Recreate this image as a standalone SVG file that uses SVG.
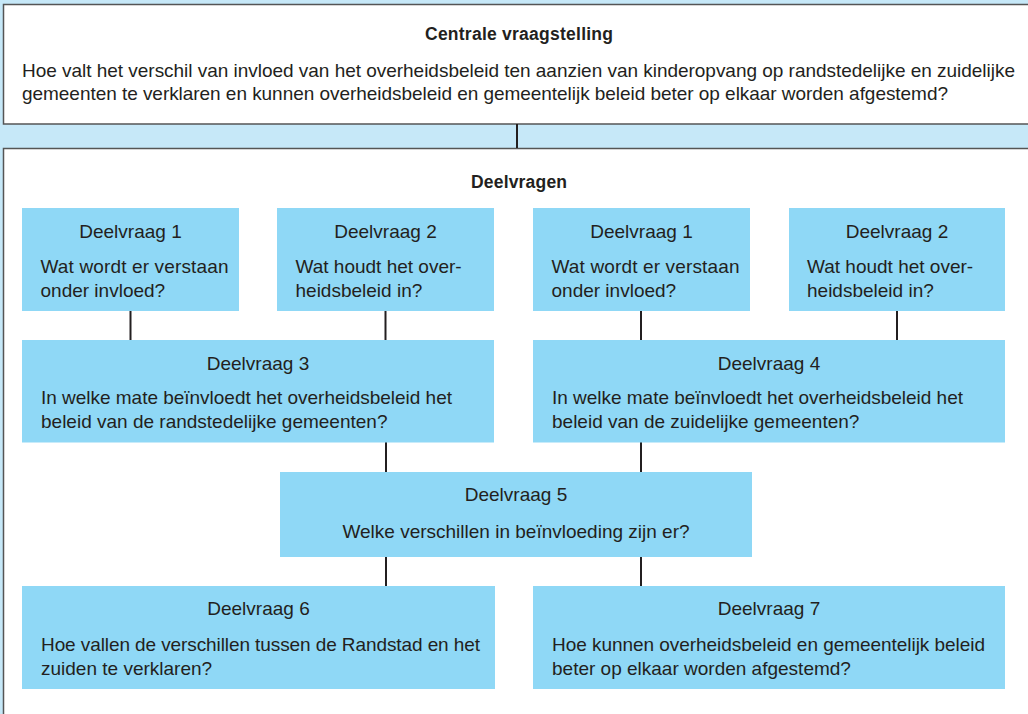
<svg xmlns="http://www.w3.org/2000/svg" width="1028" height="714" viewBox="0 0 1028 714">
<style>
.frame{fill:#ffffff;stroke:#555555;stroke-width:1.5}
.node{fill:#8fd8f6}
.t{font-family:"Liberation Sans",Arial,sans-serif;font-size:19px;fill:#231f20}
.c{text-anchor:middle}
.b{font-family:"Liberation Sans",Arial,sans-serif;font-size:17.5px;font-weight:bold;fill:#231f20;text-anchor:middle}
.conn line{stroke:#231f20;stroke-width:2}
</style>
<rect x="0" y="0" width="1028" height="714" fill="#c6e8f8"/>
<g id="central">
<rect class="frame" x="3.5" y="4.5" width="1030" height="119.5"/>
<text class="b" x="519" y="40" textLength="188">Centrale vraagstelling</text>
<text class="t" x="22" y="77" textLength="993">Hoe valt het verschil van invloed van het overheidsbeleid ten aanzien van kinderopvang op randstedelijke en zuidelijke</text>
<text class="t" x="22" y="100" textLength="926">gemeenten te verklaren en kunnen overheidsbeleid en gemeentelijk beleid beter op elkaar worden afgestemd?</text>
</g>
<g id="deelvragen">
<rect class="frame" x="3.5" y="148.5" width="1030" height="580"/>
<text class="b" x="519" y="188" textLength="96">Deelvragen</text>
</g>
<g class="conn" id="connectors">
<line x1="517" y1="124" x2="517" y2="148"/>
<line x1="130.5" y1="310" x2="130.5" y2="341"/>
<line x1="385.5" y1="310" x2="385.5" y2="341"/>
<line x1="641" y1="310" x2="641" y2="341"/>
<line x1="897" y1="310" x2="897" y2="341"/>
<line x1="386" y1="442" x2="386" y2="473"/>
<line x1="641" y1="442" x2="641" y2="473"/>
<line x1="386" y1="556" x2="386" y2="587"/>
<line x1="641" y1="556" x2="641" y2="587"/>
</g>
<g id="dv1a">
<rect class="node" x="22" y="208" width="217" height="103"/>
<text class="t c" x="130.5" y="238">Deelvraag 1</text>
<text class="t" x="40.5" y="273" textLength="188">Wat wordt er verstaan</text>
<text class="t" x="40.5" y="297">onder invloed?</text>
</g>
<g id="dv2a">
<rect class="node" x="277" y="208" width="217" height="103"/>
<text class="t c" x="385.5" y="238">Deelvraag 2</text>
<text class="t" x="295.5" y="273">Wat houdt het over-</text>
<text class="t" x="295.5" y="297">heidsbeleid in?</text>
</g>
<g id="dv1b">
<rect class="node" x="533" y="208" width="217" height="103"/>
<text class="t c" x="641.5" y="238">Deelvraag 1</text>
<text class="t" x="551.5" y="273" textLength="188">Wat wordt er verstaan</text>
<text class="t" x="551.5" y="297">onder invloed?</text>
</g>
<g id="dv2b">
<rect class="node" x="789" y="208" width="216" height="103"/>
<text class="t c" x="897" y="238">Deelvraag 2</text>
<text class="t" x="807" y="273">Wat houdt het over-</text>
<text class="t" x="807" y="297">heidsbeleid in?</text>
</g>
<g id="dv3">
<rect class="node" x="22" y="340" width="472" height="102.5"/>
<text class="t c" x="258" y="370">Deelvraag 3</text>
<text class="t" x="41" y="404" textLength="411">In welke mate beïnvloedt het overheidsbeleid het</text>
<text class="t" x="41" y="428">beleid van de randstedelijke gemeenten?</text>
</g>
<g id="dv4">
<rect class="node" x="533" y="340" width="472" height="102.5"/>
<text class="t c" x="769" y="370">Deelvraag 4</text>
<text class="t" x="552" y="404" textLength="411">In welke mate beïnvloedt het overheidsbeleid het</text>
<text class="t" x="552" y="428">beleid van de zuidelijke gemeenten?</text>
</g>
<g id="dv5">
<rect class="node" x="280" y="472" width="472" height="85"/>
<text class="t c" x="516" y="501">Deelvraag 5</text>
<text class="t c" x="516" y="538">Welke verschillen in beïnvloeding zijn er?</text>
</g>
<g id="dv6">
<rect class="node" x="22" y="586" width="473" height="103"/>
<text class="t c" x="258.5" y="615">Deelvraag 6</text>
<text class="t" x="41" y="651" textLength="439">Hoe vallen de verschillen tussen de Randstad en het</text>
<text class="t" x="41" y="675">zuiden te verklaren?</text>
</g>
<g id="dv7">
<rect class="node" x="533" y="586" width="472" height="103"/>
<text class="t c" x="769" y="615">Deelvraag 7</text>
<text class="t" x="552" y="651" textLength="433">Hoe kunnen overheidsbeleid en gemeentelijk beleid</text>
<text class="t" x="552" y="675">beter op elkaar worden afgestemd?</text>
</g>
</svg>
